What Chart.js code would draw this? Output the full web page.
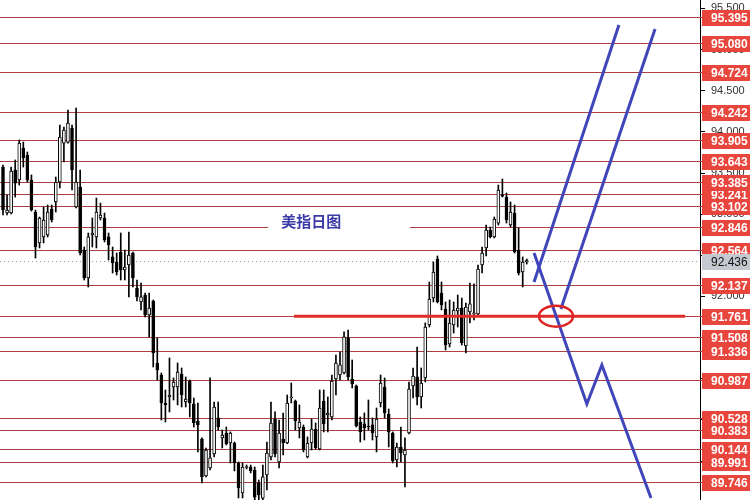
<!DOCTYPE html>
<html>
<head>
<meta charset="utf-8">
<style>
  html, body { margin: 0; padding: 0; background: #fff; }
  #wrap { width: 750px; height: 500px; position: relative; }
</style>
<script src="https://cdn.jsdelivr.net/npm/chart.js@4.4.1/dist/chart.umd.min.js"></script>
</head>
<body>
<div id="wrap"><canvas id="chart"></canvas></div>
<script>
'use strict';

// ── Daily candles ────────────────────────────────────────────────
const opens = [
  93.572, 93.014, 93.014, 93.536, 93.415, 93.804, 93.719, 93.415, 93.026, 92.650,
  92.723, 92.747, 93.063, 93.148, 93.391, 93.864, 93.876, 94.047, 93.087, 93.330,
  92.565, 92.224, 92.747, 92.723, 92.953, 92.953, 92.723, 92.480, 92.419, 92.540,
  92.322, 92.382, 92.528, 92.103, 91.933, 92.018, 91.775, 91.945, 91.192, 91.046,
  90.706, 90.779, 90.900, 90.900, 91.058, 90.718, 90.973, 90.694, 90.487, 90.268,
  89.819, 89.916, 90.086, 90.524, 90.281, 90.341, 90.220, 90.220, 89.977, 89.613,
  89.922, 89.928, 89.892, 89.734, 89.550, 89.831, 90.050, 90.511, 89.989, 90.268,
  90.220, 90.766, 90.730, 90.402, 90.414, 90.050, 90.220, 90.390, 90.147, 90.730,
  90.560, 90.536, 90.997, 91.046, 91.070, 91.496, 90.997, 90.912, 90.475, 90.451,
  90.426, 90.439, 90.293, 90.706, 90.900, 90.572, 90.341, 90.013, 90.171, 90.074,
  90.341, 90.912, 91.022, 90.779, 91.010, 91.653, 91.981, 92.455, 92.042, 91.848,
  91.423, 91.653, 91.824, 91.860, 91.398, 91.812, 91.787, 91.787, 92.382, 92.589,
  92.808, 92.723, 92.892, 93.232, 93.208, 92.868, 93.014, 92.565, 92.297, 92.419
];
const highs = [
  93.597, 93.232, 93.572, 93.658, 93.901, 93.876, 93.755, 93.476, 93.050, 92.965,
  93.087, 93.111, 93.111, 93.451, 94.083, 94.059, 94.265, 94.083, 94.289, 93.536,
  92.601, 92.771, 92.953, 93.196, 93.135, 93.014, 92.771, 92.601, 92.528, 92.771,
  92.565, 92.783, 92.540, 92.200, 92.164, 92.042, 92.042, 91.957, 91.496, 91.070,
  90.864, 91.253, 91.010, 91.192, 91.131, 91.022, 90.985, 90.766, 90.706, 90.281,
  90.159, 91.010, 90.718, 90.718, 90.378, 90.414, 90.354, 90.232, 89.989, 89.977,
  89.952, 89.952, 89.928, 89.770, 89.952, 90.232, 90.718, 90.597, 90.499, 90.584,
  90.803, 90.949, 90.742, 90.682, 90.439, 90.293, 90.511, 90.463, 90.864, 90.864,
  90.779, 91.046, 91.289, 91.325, 91.569, 91.593, 91.228, 90.924, 90.536, 90.584,
  90.742, 90.524, 90.645, 91.046, 91.010, 90.633, 90.354, 90.220, 90.414, 90.281,
  90.961, 91.131, 91.386, 91.131, 91.678, 92.176, 92.419, 92.492, 92.176, 91.933,
  91.957, 91.933, 92.018, 91.981, 91.921, 92.164, 92.152, 92.382, 92.601, 92.868,
  92.844, 92.965, 93.354, 93.427, 93.257, 93.148, 93.111, 92.832, 92.480, 92.455
];
const lows = [
  92.990, 92.990, 93.002, 93.208, 93.354, 93.572, 93.391, 93.038, 92.467, 92.589,
  92.650, 92.723, 92.905, 93.026, 93.318, 93.634, 93.864, 93.293, 93.075, 92.504,
  92.200, 92.115, 92.601, 92.589, 92.929, 92.662, 92.443, 92.285, 92.261, 92.200,
  92.200, 91.994, 92.115, 91.945, 91.836, 91.751, 91.508, 91.143, 90.985, 90.499,
  90.475, 90.597, 90.742, 90.682, 90.657, 90.657, 90.536, 90.414, 90.111, 89.734,
  89.807, 89.892, 90.050, 90.378, 90.159, 90.196, 89.977, 89.880, 89.552, 89.552,
  89.904, 89.856, 89.480, 89.500, 89.500, 89.649, 90.013, 90.050, 89.916, 90.074,
  90.210, 90.706, 90.378, 90.281, 90.111, 90.038, 90.135, 90.147, 90.135, 90.354,
  90.354, 90.499, 90.803, 90.985, 91.058, 90.985, 90.888, 90.414, 90.232, 90.256,
  90.378, 90.256, 90.111, 90.657, 90.524, 90.171, 89.977, 89.928, 89.989, 89.686,
  90.329, 90.766, 90.682, 90.645, 90.961, 91.629, 91.933, 91.921, 91.836, 91.350,
  91.386, 91.556, 91.629, 91.410, 91.313, 91.678, 91.714, 91.775, 92.285, 92.492,
  92.711, 92.711, 92.868, 93.208, 92.892, 92.844, 92.528, 92.261, 92.115, 92.394
];
const closes = [
  93.050, 93.050, 93.524, 93.378, 93.864, 93.682, 93.415, 93.050, 92.601, 92.953,
  92.929, 93.026, 92.929, 93.391, 93.937, 94.022, 94.107, 93.536, 93.391, 92.528,
  92.224, 92.723, 92.771, 93.026, 92.990, 92.686, 92.625, 92.407, 92.297, 92.322,
  92.358, 92.504, 92.224, 91.994, 91.994, 91.775, 91.860, 91.313, 91.107, 90.706,
  90.682, 90.803, 90.961, 91.082, 90.803, 90.754, 90.706, 90.463, 90.439, 89.807,
  90.135, 90.038, 90.657, 90.414, 90.317, 90.208, 90.341, 89.977, 89.673, 89.928,
  89.932, 89.880, 89.560, 89.590, 89.807, 90.098, 90.463, 90.086, 90.341, 90.220,
  90.706, 90.779, 90.487, 90.475, 90.135, 90.220, 90.390, 90.159, 90.645, 90.451,
  90.584, 90.973, 91.192, 91.168, 91.508, 91.022, 90.937, 90.426, 90.354, 90.402,
  90.414, 90.341, 90.511, 90.949, 90.584, 90.354, 90.001, 90.171, 90.098, 90.135,
  90.876, 91.034, 90.779, 90.949, 91.629, 91.969, 92.297, 91.933, 91.896, 91.410,
  91.678, 91.836, 91.860, 91.435, 91.872, 91.909, 91.800, 92.334, 92.528, 92.808,
  92.723, 92.941, 93.293, 93.220, 92.929, 93.026, 92.540, 92.285, 92.419, 92.436
];

// ── Horizontal levels / axis ─────────────────────────────────────
const levels = [95.395, 95.080, 94.724, 94.242, 93.905, 93.643, 93.385, 93.102, 92.846, 92.564,
                92.137, 91.761, 91.508, 91.336, 90.987, 90.528, 90.383, 90.144, 89.991, 89.746];
const partialLevels = [93.241];          // label mostly covered by neighbours
const lastPrice = 92.436;
const priceRange = [89.527, 95.602];
const barRange = [-0.74, 171.67];         // bar index shown from left edge to axis
const tickStep = 0.5;

// ── Drawn objects (bar index, price) ─────────────────────────────
const channelLeft  = [[130.8, 92.176], [151.7, 95.298]];
const channelRight = [[137.4, 91.848], [160.6, 95.249]];
const zigzag       = [[130.8, 92.528], [143.8, 90.694], [147.5, 91.168], [159.6, 89.552]];
const supportLine  = [[71.7, 91.761], [168.0, 91.761]];
const ringCenter   = [136.2, 91.761];
const title        = '美指日图';
const titlePos     = [75.9, 92.917];

const pts = arr => arr.map(p => ({ x: p[0], y: p[1] }));
const isUp = i => closes[i] >= opens[i];

// ── Overlay plugin: levels, title, ring, price tags ──────────────
const overlay = {
    id: 'overlay',
    beforeDatasetsDraw(chart) {
        const { ctx, chartArea: a, scales: { x, y } } = chart;
        ctx.save();
        ctx.strokeStyle = '#ad4142';
        ctx.lineWidth = 1;
        [...levels, ...partialLevels].forEach(v => {
            const py = Math.round(y.getPixelForValue(v)) + 0.5;
            ctx.beginPath();
            ctx.moveTo(a.left, py);
            ctx.lineTo(a.right + 2, py);
            ctx.stroke();
        });

        const lp = Math.round(y.getPixelForValue(lastPrice)) + 0.5;
        ctx.strokeStyle = '#9a9a9a';
        ctx.setLineDash([1, 3]);
        ctx.beginPath();
        ctx.moveTo(a.left, lp);
        ctx.lineTo(a.right, lp);
        ctx.stroke();
        ctx.setLineDash([]);

        const tx = x.getPixelForValue(titlePos[0]);
        const ty = y.getPixelForValue(titlePos[1]);
        ctx.fillStyle = '#fff';
        ctx.fillRect(tx - 43, ty - 9, 142, 28);
        ctx.font = 'bold 15px "Noto Sans CJK SC"';
        ctx.fillStyle = '#3b3ba8';
        ctx.textAlign = 'center';
        ctx.textBaseline = 'middle';
        ctx.fillText(title, tx, ty);
        ctx.restore();
    },
    afterDraw(chart) {
        const { ctx, chartArea: a, scales: { x, y } } = chart;
        ctx.save();

        // ring round the break point
        ctx.strokeStyle = '#dd2424';
        ctx.lineWidth = 2.5;
        ctx.beginPath();
        ctx.ellipse(x.getPixelForValue(ringCenter[0]), y.getPixelForValue(ringCenter[1]), 17, 10.5, 0, 0, Math.PI * 2);
        ctx.stroke();

        // price tags on the axis
        const tag = (v, bg, fg, weight) => {
            const py = Math.round(y.getPixelForValue(v));
            ctx.fillStyle = bg;
            ctx.fillRect(a.right + 2, py - 7, 48, 16);
            ctx.fillStyle = fg;
            ctx.font = `${weight} 12px "Liberation Sans"`;
            ctx.textAlign = 'left';
            ctx.textBaseline = 'middle';
            ctx.fillText(v.toFixed(3), a.right + 11, py + 1.5);
        };
        partialLevels.forEach(v => tag(v, '#e8453c', '#fff', 'bold'));
        levels.forEach(v => tag(v, '#e8453c', '#fff', 'bold'));
        tag(lastPrice, '#c5c9cf', '#111', 'normal');
        ctx.restore();
    }
};

// ── Chart ────────────────────────────────────────────────────────
const lineSet = (data, color, order) => ({
    type: 'line',
    data: pts(data),
    borderColor: color,
    borderWidth: 3,
    pointRadius: 0,
    tension: 0,
    order
});

new Chart(document.getElementById('chart'), {
    type: 'bar',
    data: {
        datasets: [
            lineSet(channelLeft, '#4045b9', 1),
            lineSet(channelRight, '#4045b9', 1),
            lineSet(zigzag, '#4045b9', 1),
            lineSet(supportLine, '#e12b2b', 2),
            {
                label: 'body',
                data: closes.map((c, i) => ({ x: i, y: [opens[i], c] })),
                backgroundColor: closes.map((c, i) => isUp(i) ? '#ffffff' : '#000000'),
                borderColor: '#000',
                borderWidth: 1,
                borderSkipped: false,
                barThickness: 3,
                minBarLength: 1,
                grouped: false,
                order: 4
            },
            {
                label: 'wick',
                data: highs.map((h, i) => ({ x: i, y: [lows[i], h] })),
                backgroundColor: '#000',
                borderWidth: 0,
                barThickness: 1,
                grouped: false,
                order: 5
            }
        ]
    },
    options: {
        responsive: true,
        maintainAspectRatio: false,
        animation: false,
        layout: { padding: 0 },
        plugins: { legend: { display: false }, tooltip: { enabled: false } },
        scales: {
            x: {
                type: 'linear',
                display: false,
                offset: false,
                min: barRange[0],
                max: barRange[1]
            },
            y: {
                position: 'right',
                min: priceRange[0],
                max: priceRange[1],
                afterFit: s => { s.width = 50; s.paddingTop = 0; s.paddingBottom = 0; },
                border: { display: true, color: '#000', width: 1 },
                grid: { drawOnChartArea: false, drawTicks: true, tickLength: 5, color: '#000' },
                ticks: {
                    stepSize: tickStep,
                    includeBounds: false,
                    padding: 6,
                    color: '#333',
                    font: { family: 'Liberation Sans', size: 11 },
                    callback: v => Number(v).toFixed(3)
                }
            }
        }
    },
    plugins: [overlay]
});
</script>
</body>
</html>
